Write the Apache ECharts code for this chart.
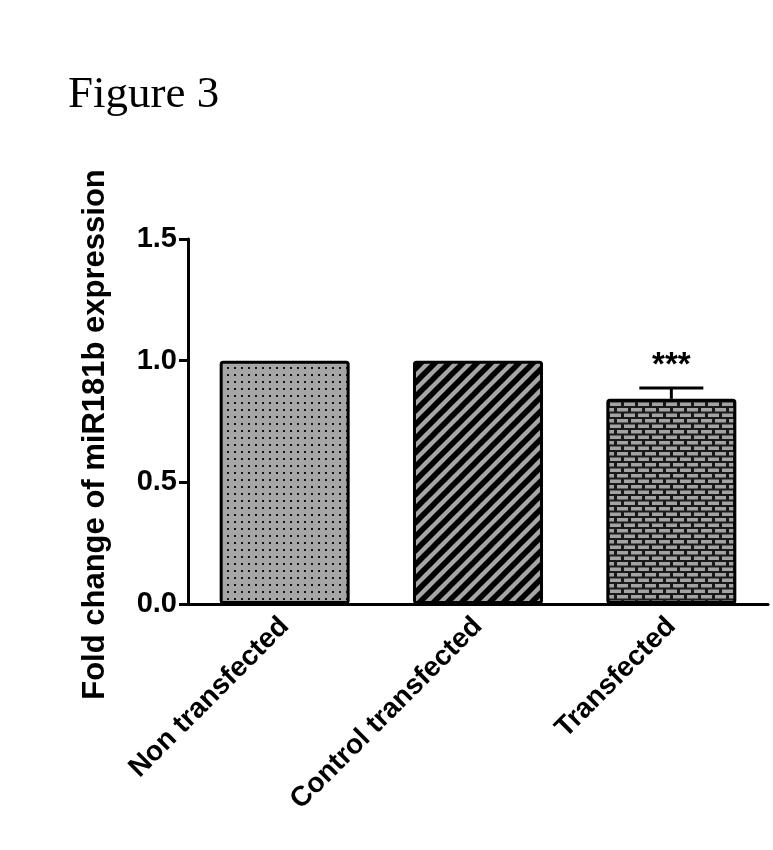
<!DOCTYPE html>
<html>
<head>
<meta charset="utf-8">
<script src="https://cdn.jsdelivr.net/npm/echarts@6/dist/echarts.min.js"></script>
<style>
html,body{margin:0;padding:0;background:#fff;}
#c{width:773px;height:850px;}
</style>
</head>
<body>
<div id="c"></div>
<script>
var categories = ['Non transfected', 'Control transfected', 'Transfected'];
var values = [1.0, 1.0, 0.843];
var errors = [0, 0, 0.045];
var sigLabels = ['', '', '***'];
var yTicks = [0.0, 0.5, 1.0, 1.5];

function makeCanvas(w, h) {
  var c = document.createElement('canvas');
  c.width = w; c.height = h;
  return c;
}
function dotPattern() {
  var c = makeCanvas(7, 7), g = c.getContext('2d');
  g.fillStyle = '#a6a6a6'; g.fillRect(0, 0, 7, 7);
  g.fillStyle = '#111'; g.fillRect(3, 3, 2, 2);
  return c;
}
function stripePattern() {
  var s = 14;
  var c = makeCanvas(s, s), g = c.getContext('2d');
  g.fillStyle = '#a6a6a6'; g.fillRect(0, 0, s, s);
  g.strokeStyle = '#000'; g.lineWidth = 5.5;
  for (var k = -1; k <= 1; k++) {
    g.beginPath();
    g.moveTo(k * s - 2, s + 2);
    g.lineTo(k * s + s + 2, -2);
    g.stroke();
  }
  return c;
}
function brickPattern() {
  var w = 14, h = 11;
  var c = makeCanvas(w, h), g = c.getContext('2d');
  g.fillStyle = '#1a1a1a'; g.fillRect(0, 0, w, h);
  g.fillStyle = '#a3a3a3';
  g.fillRect(1, 1, 11, 3.5);
  g.fillRect(8, 6.5, 11, 3.5);
  g.fillRect(-6, 6.5, 11, 3.5);
  return c;
}
var patterns = [dotPattern(), stripePattern(), brickPattern()];

var chart = echarts.init(document.getElementById('c'));
var barData = values.map(function (v, i) {
  return {
    value: v,
    itemStyle: {
      color: { image: patterns[i], repeat: 'repeat' },
      borderColor: '#000', borderWidth: 3, borderRadius: 2
    }
  };
});
var errData = values.map(function (v, i) { return [i, v, errors[i], sigLabels[i]]; });

chart.setOption({
  animation: false,
  backgroundColor: '#fff',
  title: {
    text: 'Figure 3', left: 63, top: 68,
    textStyle: { fontFamily: 'Liberation Serif', fontWeight: 'normal', fontSize: 45, color: '#000' }
  },
  grid: { left: 188, top: 239, right: 5, bottom: 246 },
  xAxis: {
    type: 'category', data: categories,
    axisLine: { lineStyle: { color: '#000', width: 3 } },
    axisTick: { alignWithLabel: true, length: 9, lineStyle: { color: '#000', width: 3 } },
    axisLabel: {
      rotate: 45, margin: 18, color: '#000', fontFamily: 'Liberation Sans',
      fontWeight: 'bold', fontSize: 28
    }
  },
  yAxis: {
    type: 'value', min: 0, max: 1.5, interval: 0.5,
    name: 'Fold change of miR181b expression', nameLocation: 'middle', nameGap: 77,
    nameTextStyle: { color: '#000', fontFamily: 'Liberation Sans', fontWeight: 'bold', fontSize: 31, padding: [0, 26, 0, 0] },
    splitLine: { show: false },
    axisLine: { show: true, lineStyle: { color: '#000', width: 3 } },
    axisTick: { show: true, length: 9, lineStyle: { color: '#000', width: 3 } },
    axisLabel: {
      color: '#000', fontFamily: 'Liberation Sans', fontWeight: 'bold', fontSize: 29, margin: 11,
      formatter: function (v) { return yTicks.indexOf(v) >= 0 ? v.toFixed(1) : ''; }
    }
  },
  series: [
    { type: 'bar', data: barData, barWidth: 130, z: 2 },
    {
      type: 'custom', z: 3, data: errData,
      renderItem: function (params, api) {
        var i = api.value(0), v = api.value(1), e = api.value(2), lab = errData[params.dataIndex][3];
        var children = [];
        var base = api.coord([i, v]);
        var top = api.coord([i, v + e]);
        if (e > 0) {
          children.push({ type: 'line', shape: { x1: base[0], y1: base[1], x2: top[0], y2: top[1] }, style: { stroke: '#000', lineWidth: 3 } });
          children.push({ type: 'line', shape: { x1: top[0] - 32, y1: top[1], x2: top[0] + 32, y2: top[1] }, style: { stroke: '#000', lineWidth: 3 } });
        }
        if (lab) {
          children.push({ type: 'text', style: { text: lab, x: top[0], y: top[1] - 39, align: 'center', verticalAlign: 'top', fill: '#000', font: 'bold 33px "Liberation Sans"' } });
        }
        return { type: 'group', children: children };
      }
    }
  ]
});
</script>
</body>
</html>
